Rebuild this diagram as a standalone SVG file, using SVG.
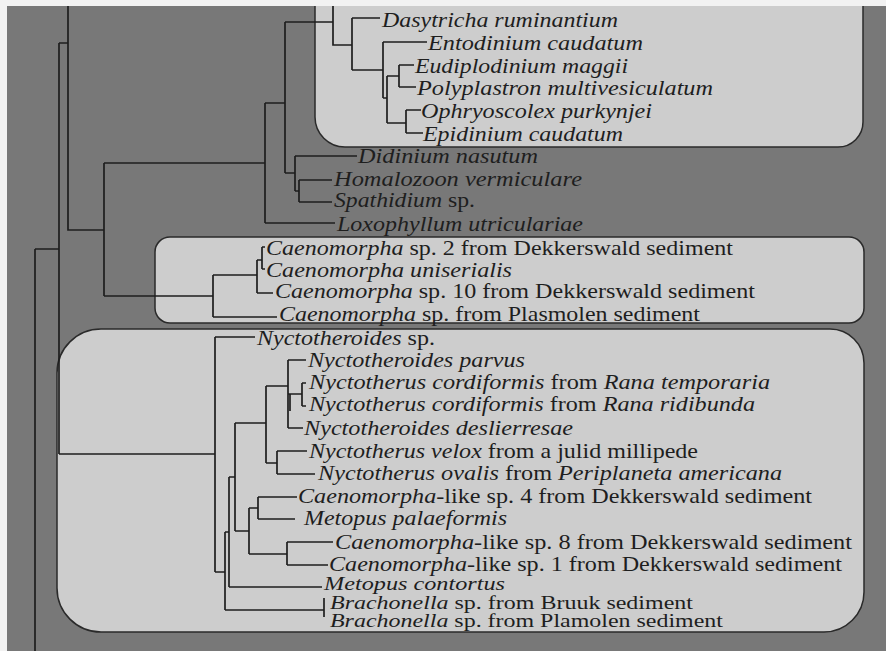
<svg xmlns="http://www.w3.org/2000/svg" width="886" height="651" viewBox="0 0 886 651">
<style>
.bg{fill:#787878}
.box{fill:#cdcdcd;stroke:#2a2a2a;stroke-width:1.5}
.br{fill:none;stroke:#1e1e1e;stroke-width:1.7}
text{font-family:"Liberation Serif","Times New Roman",serif;font-size:21px;fill:#1e1e1e}
.i{font-style:italic}
.sm{font-size:19px}
</style>
<rect class="bg" x="0" y="0" width="886" height="651"/>
<g id="boxes">
<path id="box-litostomatea" class="box" d="M315,-40 V117 A30,30 0 0 0 345,147 H838 A25,25 0 0 0 863,122 V-40 Z"/>
<rect id="box-caenomorpha" class="box" x="155" y="237" width="709" height="86" rx="15" ry="15"/>
<path id="box-armophorea" class="box" d="M57,373 A44,44 0 0 1 101,329 H830 A34,34 0 0 1 864,363 V592 A40,40 0 0 1 824,632 H101 A44,44 0 0 1 57,588 Z"/>
</g>
<g id="connectors" class="br">
<path d="M35,249 V651 M35,249 H59"/>
<path d="M59,43 V454 M59,43 H68 M59,454 H215"/>
<path d="M68,0 V230 H104"/>
<path d="M104,163 V296 M104,163 H265 M104,296 H213"/>
<path d="M265,103 V223 M265,103 H285 M265,223 H335"/>
<path d="M285,22 V173 M285,22 H333 M285,173 H295"/>
<path d="M333,0 V45 H352"/>
<path d="M352,18 V70 M352,18 H380 M352,70 H383"/>
<path d="M383,42 V98 M383,42 H427 M383,98 H387"/>
<path d="M387,76 V123 M387,76 H399 M387,123 H406"/>
<path d="M399,65 V87 M399,65 H414 M399,87 H416"/>
<path d="M406,110 V133 M406,110 H421 M406,133 H423"/>
<path d="M295,156 V191 M295,156 H357 M295,191 H299"/>
<path d="M299,180 V202 M299,180 H332 M299,202 H332"/>
<path d="M213,275 V317 M213,275 H257 M213,317 H277"/>
<path d="M257,260 V293 M257,260 H262 M257,293 H273"/>
<path d="M262,247 V269 M262,247 H265 M262,269 H265"/>
<path d="M215,337 V572 M215,337 H255 M215,572 H225"/>
<path d="M225,532 V610 M225,532 H229 M225,610 H324"/>
<path d="M324,598 V617"/>
<path d="M229,477 V587 M229,477 H235 M229,587 H322"/>
<path d="M235,423 V531 M235,423 H266 M235,531 H249"/>
<path d="M266,386 V463 M266,386 H288 M266,463 H277"/>
<path d="M288,360 V428 M288,360 H306 M288,394 H302 M288,428 H303"/>
<path d="M290,394 V411"/>
<path d="M302,383 V406 M302,383 H306 M302,406 H306"/>
<path d="M277,451 V474 M277,451 H307 M277,474 H315"/>
<path d="M249,508 V554 M249,508 H258 M249,554 H287"/>
<path d="M258,497 V519 M258,497 H297 M258,519 H295"/>
<path d="M287,542 V565 M287,542 H333 M287,565 H328"/>
</g>
<g id="n1"><text x="382" y="27" textLength="236" lengthAdjust="spacingAndGlyphs" class="i">Dasytricha ruminantium</text></g>
<g id="n2"><text x="428" y="50" textLength="215" lengthAdjust="spacingAndGlyphs" class="i">Entodinium caudatum</text></g>
<g id="n3"><text x="415" y="73" textLength="213" lengthAdjust="spacingAndGlyphs" class="i">Eudiplodinium maggii</text></g>
<g id="n4"><text x="417" y="95" textLength="296" lengthAdjust="spacingAndGlyphs" class="i">Polyplastron multivesiculatum</text></g>
<g id="n5"><text x="421" y="118" textLength="231" lengthAdjust="spacingAndGlyphs" class="i">Ophryoscolex purkynjei</text></g>
<g id="n6"><text x="423" y="141" textLength="200" lengthAdjust="spacingAndGlyphs" class="i">Epidinium caudatum</text></g>
<g id="n7"><text x="358" y="163" textLength="180" lengthAdjust="spacingAndGlyphs" class="i">Didinium nasutum</text></g>
<g id="n8"><text x="334" y="186" textLength="248" lengthAdjust="spacingAndGlyphs" class="i">Homalozoon vermiculare</text></g>
<g id="n9"><text x="334" y="207" textLength="141" lengthAdjust="spacingAndGlyphs"><tspan class="i">Spathidium</tspan> sp.</text></g>
<g id="n10"><text x="337" y="231" textLength="246" lengthAdjust="spacingAndGlyphs" class="i">Loxophyllum utriculariae</text></g>
<g id="n11"><text x="266" y="255" textLength="467" lengthAdjust="spacingAndGlyphs"><tspan class="i">Caenomorpha</tspan> sp. 2 from Dekkerswald sediment</text></g>
<g id="n12"><text x="266" y="277" textLength="246" lengthAdjust="spacingAndGlyphs" class="i">Caenomorpha uniserialis</text></g>
<g id="n13"><text x="275" y="298" textLength="480" lengthAdjust="spacingAndGlyphs"><tspan class="i">Caenomorpha</tspan> sp. 10 from Dekkerswald sediment</text></g>
<g id="n14"><text x="279" y="321" textLength="421" lengthAdjust="spacingAndGlyphs"><tspan class="i">Caenomorpha</tspan> sp. from Plasmolen sediment</text></g>
<g id="n15"><text x="257" y="345" textLength="178" lengthAdjust="spacingAndGlyphs"><tspan class="i">Nyctotheroides</tspan> sp.</text></g>
<g id="n16"><text x="308" y="367" textLength="217" lengthAdjust="spacingAndGlyphs" class="i">Nyctotheroides parvus</text></g>
<g id="n17"><text x="309" y="389" textLength="461" lengthAdjust="spacingAndGlyphs"><tspan class="i">Nyctotherus cordiformis</tspan> from <tspan class="i">Rana temporaria</tspan></text></g>
<g id="n18"><text x="309" y="411" textLength="446" lengthAdjust="spacingAndGlyphs"><tspan class="i">Nyctotherus cordiformis</tspan> from <tspan class="i">Rana ridibunda</tspan></text></g>
<g id="n19"><text x="304" y="435" textLength="269" lengthAdjust="spacingAndGlyphs" class="i">Nyctotheroides deslierresae</text></g>
<g id="n20"><text x="309" y="458" textLength="389" lengthAdjust="spacingAndGlyphs"><tspan class="i">Nyctotherus velox</tspan> from a julid millipede</text></g>
<g id="n21"><text x="318" y="480" textLength="464" lengthAdjust="spacingAndGlyphs"><tspan class="i">Nyctotherus ovalis</tspan> from <tspan class="i">Periplaneta americana</tspan></text></g>
<g id="n22"><text x="298" y="503" textLength="514" lengthAdjust="spacingAndGlyphs"><tspan class="i">Caenomorpha</tspan>-like sp. 4 from Dekkerswald sediment</text></g>
<g id="n23"><text x="304" y="525" textLength="203" lengthAdjust="spacingAndGlyphs" class="i">Metopus palaeformis</text></g>
<g id="n24"><text x="335" y="549" textLength="517" lengthAdjust="spacingAndGlyphs"><tspan class="i">Caenomorpha</tspan>-like sp. 8 from Dekkerswald sediment</text></g>
<g id="n25"><text x="329" y="571" textLength="513" lengthAdjust="spacingAndGlyphs"><tspan class="i">Caenomorpha</tspan>-like sp. 1 from Dekkerswald sediment</text></g>
<g id="n26"><text x="324" y="590" textLength="181" lengthAdjust="spacingAndGlyphs" class="i sm">Metopus contortus</text></g>
<g id="n27"><text x="330" y="609" textLength="363" lengthAdjust="spacingAndGlyphs" class="sm"><tspan class="i">Brachonella</tspan> sp. from Bruuk sediment</text></g>
<g id="n28"><text x="330" y="627" textLength="393" lengthAdjust="spacingAndGlyphs" class="sm"><tspan class="i">Brachonella</tspan> sp. from Plamolen sediment</text></g>
<rect x="0" y="0" width="886" height="6" fill="#f2f2f2"/>
<rect x="0" y="0" width="7" height="651" fill="#f2f2f2"/>
</svg>
